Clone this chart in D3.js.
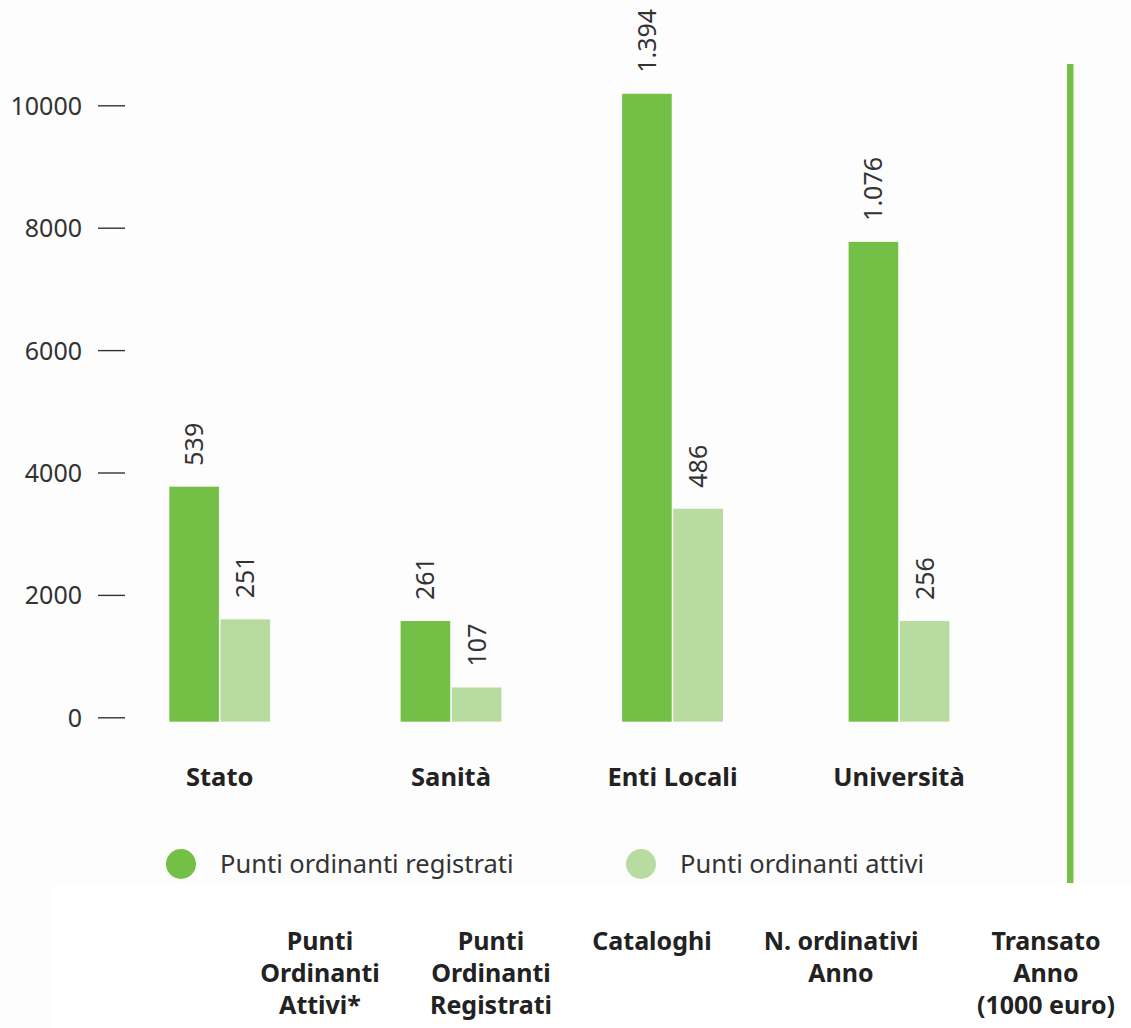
<!DOCTYPE html>
<html>
<head>
<meta charset="utf-8">
<script src="https://cdn.jsdelivr.net/npm/d3@7"></script>
<style>
  html, body { margin: 0; padding: 0; background: #fdfdfd; }
  svg { display: block; font-family: "Noto Sans", "Open Sans", sans-serif; }
</style>
</head>
<body>
<svg id="chart" width="1131" height="1028"></svg>
<script>
// Categories (public administration sectors)
const categories = ["Stato", "Sanità", "Enti Locali", "Università"];
// Series
const seriesNames = ["Punti ordinanti registrati", "Punti ordinanti attivi"];
const registrati = [3840, 1645, 10260, 7840];
const attivi = [1673, 560, 3480, 1645];
// Labels printed above each bar
const labelsRegistrati = ["539", "261", "1.394", "1.076"];
const labelsAttivi = ["251", "107", "486", "256"];
// Y axis ticks
const yTicks = [0, 2000, 4000, 6000, 8000, 10000];
// Table headers under the chart
const headers = [
  ["Punti", "Ordinanti", "Attivi*"],
  ["Punti", "Ordinanti", "Registrati"],
  ["Cataloghi"],
  ["N. ordinativi", "Anno"],
  ["Transato", "Anno", "(1000 euro)"]
];

const colors = ["#74bf46", "#b8dc9f"];
const svg = d3.select("#chart");

// White panel behind the table headers
svg.append("rect").attr("x", 52).attr("y", 886).attr("width", 1131 - 52).attr("height", 1028 - 886).attr("fill", "#ffffff");

const y = d3.scaleLinear().domain([0, 10000]).range([721.7, 109.7]);
// Group centres along the x axis
const x = d3.scaleOrdinal().domain(categories).range([219.7, 451, 672.5, 899]);
const inner = d3.scaleBand().domain(seriesNames).range([-50.4, 50.4]).paddingInner(0.03);

// Y axis: ticks only, slightly raised above the bar baseline
const yAxis = d3.axisLeft(y)
  .tickValues(yTicks)
  .tickFormat(d3.format("d"))
  .tickSizeInner(27)
  .tickSizeOuter(0)
  .tickPadding(16);
const gy = svg.append("g").attr("transform", "translate(125,-4.4)").call(yAxis);
gy.select(".domain").remove();
gy.selectAll(".tick line").attr("stroke", "#333").attr("stroke-width", 1.4);
gy.selectAll(".tick text")
  .attr("fill", "#333")
  .attr("font-size", 25)
  .attr("font-family", "'Noto Sans', sans-serif")
  .attr("dy", "0.36em");

const rows = categories.map((c, i) => ({
  cat: c,
  values: [
    { s: seriesNames[0], v: registrati[i], label: labelsRegistrati[i], color: colors[0] },
    { s: seriesNames[1], v: attivi[i], label: labelsAttivi[i], color: colors[1] }
  ]
}));

const groups = svg.append("g").selectAll("g")
  .data(rows).join("g")
  .attr("transform", d => `translate(${x(d.cat)},0)`);

groups.selectAll("rect")
  .data(d => d.values).join("rect")
  .attr("x", d => inner(d.s))
  .attr("width", inner.bandwidth())
  .attr("y", d => y(d.v))
  .attr("height", d => y(0) - y(d.v))
  .attr("fill", d => d.color);

groups.selectAll("text.val")
  .data(d => d.values).join("text")
  .attr("class", "val")
  .attr("transform", d => `translate(${inner(d.s) + inner.bandwidth() / 2},${y(d.v) - 21}) rotate(-90)`)
  .attr("dy", "0.36em")
  .attr("font-size", 25)
  .attr("fill", "#333")
  .text(d => d.label);

// Category labels
svg.append("g").selectAll("text")
  .data(categories).join("text")
  .attr("x", d => x(d))
  .attr("y", 786)
  .attr("text-anchor", "middle")
  .attr("font-size", 25.5)
  .attr("font-weight", "bold")
  .attr("fill", "#222")
  .text(d => d);

// Vertical separator
svg.append("rect").attr("x", 1067).attr("y", 64).attr("width", 6.5).attr("height", 819).attr("fill", "#74bf46");

// Legend
const legendX = [181, 641];
const legend = svg.append("g").selectAll("g")
  .data(seriesNames).join("g")
  .attr("transform", (d, i) => `translate(${legendX[i]},864)`);
legend.append("circle").attr("r", 15).attr("fill", (d, i) => colors[i]);
legend.append("text")
  .attr("x", 39)
  .attr("dy", "0.36em")
  .attr("font-size", 25.5)
  .attr("fill", "#333")
  .text(d => d);

// Table column headers
const headerX = [320, 491, 652, 841, 1046];
const hdr = svg.append("g").selectAll("text")
  .data(headers).join("text")
  .attr("x", (d, i) => headerX[i])
  .attr("y", 950)
  .attr("text-anchor", "middle")
  .attr("font-size", 25)
  .attr("font-weight", "bold")
  .attr("fill", "#222");
hdr.selectAll("tspan")
  .data((d, i) => d.map(t => ({ t, i })))
  .join("tspan")
  .attr("x", d => headerX[d.i])
  .attr("dy", (d, j) => j === 0 ? 0 : 32)
  .text(d => d.t);
</script>
</body>
</html>
